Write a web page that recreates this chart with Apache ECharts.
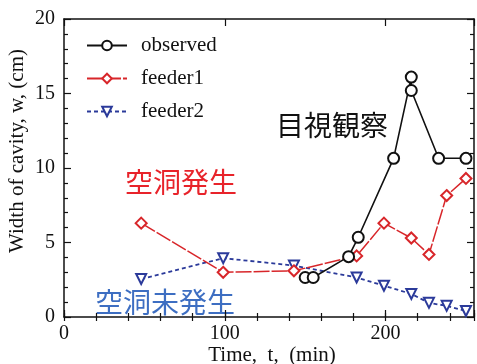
<!DOCTYPE html>
<html>
<head>
<meta charset="utf-8">
<script src="https://cdn.jsdelivr.net/npm/echarts@6/dist/echarts.min.js"></script>
<style>
html,body{margin:0;padding:0;background:#fff;}
#chart{width:477px;height:364px;}
</style>
</head>
<body>
<div id="chart"></div>
<script>
// ---- data ----
const observedTimes = [150, 155, 177, 183, 205, 216, 216, 233, 250];
const observedWidth = [2.65, 2.65, 4.05, 5.35, 10.65, 16.1, 15.2, 10.65, 10.65];
const feederTimes = [48, 99, 143, 182, 199, 216, 227, 238, 250];
const feeder1Width = [6.3, 3.0, 3.1, 4.1, 6.3, 5.3, 4.2, 8.15, 9.3];
const feeder2Width = [2.55, 3.95, 3.45, 2.65, 2.1, 1.55, 0.95, 0.75, 0.4];
const seriesNames = ['observed', 'feeder1', 'feeder2'];
const xLabelValues = [0, 100, 200];
const yLabelValues = [0, 5, 10, 15, 20];
const xAxisTitle = 'Time,  t,  (min)';
const yAxisTitle = 'Width of cavity, w, (cm)';
const noteObserved = '目視観察';
const noteCavity = '空洞発生';
const noteNoCavity = '空洞未発生';

const pair = (xs, ys) => xs.map((x, i) => [x, ys[i]]);
const serif = 'Liberation Serif';
const black = '#111';

const xBase = {
  type: 'value', min: 0, max: 255, splitLine: {show: false},
  axisLine: {show: true, onZero: false, lineStyle: {color: black, width: 1.5}}
};
const yBase = {
  type: 'value', min: 0, max: 20, interval: 5, splitLine: {show: false},
  axisLine: {show: true, onZero: false, lineStyle: {color: black, width: 1.5}},
  axisTick: {show: true, inside: true, length: 7, lineStyle: {color: black, width: 1.2}},
  minorTick: {show: true, splitNumber: 5, length: 4, lineStyle: {color: black, width: 1.2}},
  minorSplitLine: {show: false}
};

const chart = echarts.init(document.getElementById('chart'), null, {renderer: 'canvas'});
chart.setOption({
  animation: false,
  backgroundColor: '#fff',
  grid: {left: 64, right: 1, top: 19, bottom: 47, containLabel: false},
  legend: {
    data: seriesNames,
    orient: 'vertical',
    left: 86, top: 35, padding: 0,
    itemWidth: 40, itemHeight: 12, itemGap: 12,
    textStyle: {fontFamily: serif, fontSize: 21, color: black, padding: [0, 0, 0, 9]}
  },
  xAxis: [
    Object.assign({}, xBase, {
      position: 'bottom', interval: 100,
      axisTick: {show: true, inside: true, length: 7, lineStyle: {color: black, width: 1.2}},
      axisLabel: {
        show: true, margin: 7, fontFamily: serif, fontSize: 20, color: black,
        formatter: v => (xLabelValues.indexOf(v) >= 0 ? String(v) : '')
      }
    }),
    Object.assign({}, xBase, {
      position: 'bottom', interval: 20, axisLine: {show: false},
      axisTick: {show: true, inside: true, length: 4, lineStyle: {color: black, width: 1.2}},
      axisLabel: {show: false}
    }),
    Object.assign({}, xBase, {
      position: 'top', interval: 100,
      axisTick: {show: true, inside: true, length: 7, lineStyle: {color: black, width: 1.2}},
      axisLabel: {show: false}
    }),
    Object.assign({}, xBase, {
      position: 'top', interval: 20, axisLine: {show: false},
      axisTick: {show: true, inside: true, length: 4, lineStyle: {color: black, width: 1.2}},
      axisLabel: {show: false}
    })
  ],
  yAxis: [
    Object.assign({}, yBase, {
      position: 'left',
      axisLabel: {
        show: true, margin: 9, fontFamily: serif, fontSize: 20, color: black,
        formatter: v => (yLabelValues.indexOf(v) >= 0 ? String(v) : '')
      }
    }),
    Object.assign({}, yBase, {position: 'right', axisLabel: {show: false}})
  ],
  graphic: [
    {type: 'text', left: 276, top: 111, style: {text: noteObserved, font: '28px "Noto Sans CJK JP"', fill: '#111'}},
    {type: 'text', left: 125, top: 168, style: {text: noteCavity, font: '28px "Noto Sans CJK JP"', fill: '#e8232a'}},
    {type: 'text', left: 95, top: 288, style: {text: noteNoCavity, font: '28px "Noto Sans CJK JP"', fill: '#3d6ec2'}},
    {type: 'text', x: 17, y: 151, rotation: Math.PI / 2,
      style: {text: yAxisTitle, font: '21px "Liberation Serif"', fill: black, align: 'center', verticalAlign: 'middle'}},
    {type: 'text', x: 272, y: 355,
      style: {text: xAxisTitle, font: '21px "Liberation Serif"', fill: black, align: 'center', verticalAlign: 'middle'}}
  ],
  series: [
    {
      name: seriesNames[0], type: 'line', xAxisIndex: 0, yAxisIndex: 0,
      data: pair(observedTimes, observedWidth),
      symbol: 'emptyCircle', symbolSize: 11, z: 5,
      lineStyle: {color: '#111', width: 1.6},
      itemStyle: {color: '#111', borderColor: '#111', borderWidth: 1.6}
    },
    {
      name: seriesNames[1], type: 'line', xAxisIndex: 0, yAxisIndex: 0,
      data: pair(feederTimes, feeder1Width),
      symbol: 'emptyDiamond', symbolSize: 11, z: 4,
      lineStyle: {color: '#d8262a', width: 1.5, type: [16, 2]},
      itemStyle: {color: '#d8262a', borderColor: '#d8262a', borderWidth: 1.6}
    },
    {
      name: seriesNames[2], type: 'line', xAxisIndex: 0, yAxisIndex: 0,
      data: pair(feederTimes, feeder2Width),
      symbol: 'emptyTriangle', symbolRotate: 180, symbolSize: 10, z: 3,
      lineStyle: {color: '#2b3a9a', width: 1.8, type: [4, 3]},
      itemStyle: {color: '#2b3a9a', borderColor: '#2b3a9a', borderWidth: 1.6}
    }
  ]
});
</script>
</body>
</html>
